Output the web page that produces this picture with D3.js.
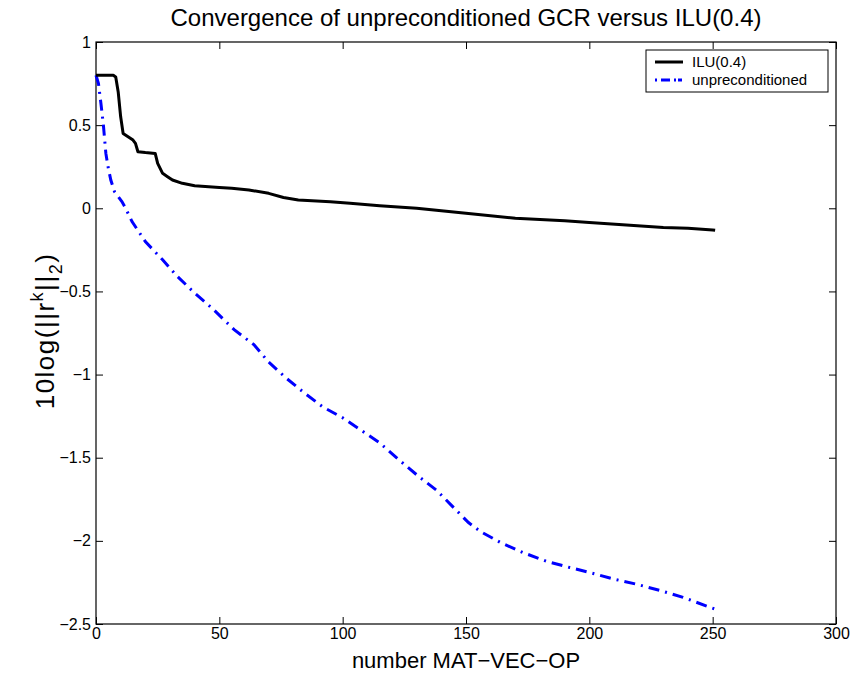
<!DOCTYPE html>
<html>
<head>
<meta charset="utf-8">
<script src="https://cdn.jsdelivr.net/npm/d3@7"></script>
<style>
  body { margin: 0; background: #fff; }
  svg { display: block; font-family: "Liberation Sans", Arial, Helvetica, sans-serif; }
</style>
</head>
<body>
<div id="chart"></div>
<script>
// values
const iluX = [0, 7, 8, 9, 10, 11, 13, 15, 16, 17, 20, 24, 25, 26, 27, 29, 31, 35, 40, 50, 55, 62, 70, 76, 82, 95, 103, 115, 130, 150, 170, 190, 200, 215, 230, 240, 250, 251];
const iluY = [0.80, 0.80, 0.79, 0.70, 0.55, 0.45, 0.43, 0.41, 0.39, 0.34, 0.335, 0.33, 0.27, 0.24, 0.21, 0.19, 0.17, 0.15, 0.135, 0.125, 0.12, 0.11, 0.09, 0.065, 0.05, 0.04, 0.03, 0.015, 0, -0.03, -0.06, -0.075, -0.085, -0.1, -0.115, -0.12, -0.13, -0.132];

const unpX = [0, 1, 2, 3, 4, 5, 6, 7.5, 10.5, 12, 14.6, 20, 27, 33, 40, 47, 56, 64, 70, 77, 84, 92, 100, 107, 115, 123, 131, 138, 144, 151, 156, 164, 173, 183, 192, 200, 210, 219, 229, 238, 249, 251];
const unpY = [0.8, 0.75, 0.63, 0.5, 0.33, 0.24, 0.17, 0.1, 0.04, 0, -0.08, -0.2, -0.31, -0.41, -0.51, -0.6, -0.73, -0.82, -0.925, -1.02, -1.105, -1.195, -1.26, -1.33, -1.41, -1.515, -1.615, -1.695, -1.785, -1.89, -1.945, -2.01, -2.07, -2.125, -2.16, -2.19, -2.23, -2.26, -2.3, -2.34, -2.4, -2.41];

const xTicks = [0, 50, 100, 150, 200, 250, 300];
const yTicks = [1, 0.5, 0, -0.5, -1, -1.5, -2, -2.5];
const seriesNames = ["ILU(0.4)", "unpreconditioned"];

const width = 853;
const height = 675;
const margin = { top: 42, right: 17, bottom: 51, left: 96 };
const chartWidth = width - margin.left - margin.right;
const chartHeight = height - margin.top - margin.bottom;

const svg = d3.select("#chart")
    .append("svg")
    .attr("width", width)
    .attr("height", height);

const chart = svg.append("g")
    .attr("transform", `translate(${margin.left}, ${margin.top})`);

const xScale = d3.scaleLinear().domain([0, 300]).range([0, chartWidth]);
const yScale = d3.scaleLinear().domain([-2.5, 1]).range([chartHeight, 0]);

const fmt = d3.format("");
const tickLen = 7;

// axes: inward ticks on all four sides (matlab box)
chart.append("g")
    .attr("transform", `translate(0, ${chartHeight})`)
    .call(d3.axisBottom(xScale).tickValues(xTicks).tickFormat(fmt).tickSizeInner(-tickLen).tickSizeOuter(0).tickPadding(4))
    .call(g => g.select(".domain").remove());

chart.append("g")
    .call(d3.axisTop(xScale).tickValues(xTicks).tickFormat("").tickSizeInner(-tickLen).tickSizeOuter(0))
    .call(g => g.select(".domain").remove());

chart.append("g")
    .call(d3.axisLeft(yScale).tickValues(yTicks).tickFormat(fmt).tickSizeInner(-tickLen).tickSizeOuter(0).tickPadding(5))
    .call(g => g.select(".domain").remove());

chart.append("g")
    .attr("transform", `translate(${chartWidth}, 0)`)
    .call(d3.axisRight(yScale).tickValues(yTicks).tickFormat("").tickSizeInner(-tickLen).tickSizeOuter(0))
    .call(g => g.select(".domain").remove());

chart.selectAll(".tick text")
    .style("font-size", "16px")
    .style("fill", "#000");
chart.selectAll(".tick line").attr("stroke", "#000");

chart.append("rect")
    .attr("width", chartWidth)
    .attr("height", chartHeight)
    .attr("fill", "none")
    .attr("stroke", "#000")
    .attr("stroke-width", 1.2);

const line = d3.line()
    .x(d => xScale(d[0]))
    .y(d => yScale(d[1]));

const iluData = iluX.map((x, i) => [x, iluY[i]]);
const unpData = unpX.map((x, i) => [x, unpY[i]]);

chart.append("path")
    .datum(unpData)
    .attr("fill", "none")
    .attr("stroke", "#0000ff")
    .attr("stroke-width", 3)
    .attr("stroke-dasharray", "11,6,2,6")
    .attr("d", line);

chart.append("path")
    .datum(iluData)
    .attr("fill", "none")
    .attr("stroke", "#000")
    .attr("stroke-width", 3)
    .attr("stroke-linejoin", "round")
    .attr("d", line);

// title and labels
svg.append("text")
    .attr("x", margin.left + chartWidth / 2)
    .attr("y", 26)
    .attr("text-anchor", "middle")
    .style("font-size", "24px")
    .text("Convergence of unpreconditioned GCR versus ILU(0.4)");

svg.append("text")
    .attr("x", margin.left + chartWidth / 2)
    .attr("y", 668)
    .attr("text-anchor", "middle")
    .style("font-size", "22px")
    .text("number MAT\u2212VEC\u2212OP");

const ylab = svg.append("text")
    .attr("transform", `translate(54, ${margin.top + chartHeight / 2 - 2}) rotate(-90)`)
    .attr("text-anchor", "middle")
    .style("font-size", "26px")
    .style("letter-spacing", "1.5px");
ylab.append("tspan").text("10log(||r");
ylab.append("tspan").attr("dy", -11).style("font-size", "18px").text("k");
ylab.append("tspan").attr("dy", 11).text("||");
ylab.append("tspan").attr("dy", 8).style("font-size", "18px").text("2");
ylab.append("tspan").attr("dy", -8).text(")");

// legend
const legend = svg.append("g").attr("transform", "translate(646, 50)");
legend.append("rect")
    .attr("width", 182)
    .attr("height", 42)
    .attr("fill", "#fff")
    .attr("stroke", "#000")
    .attr("stroke-width", 1);

const legendStyles = [
    { stroke: "#000", dash: null, width: 3 },
    { stroke: "#0000ff", dash: "2,4,9,4,2", width: 3 }
];

seriesNames.forEach((name, i) => {
    const y = 12 + i * 18;
    legend.append("line")
        .attr("x1", 9).attr("x2", 37)
        .attr("y1", y).attr("y2", y)
        .attr("stroke", legendStyles[i].stroke)
        .attr("stroke-width", legendStyles[i].width)
        .attr("stroke-dasharray", legendStyles[i].dash);
    legend.append("text")
        .attr("x", 46)
        .attr("y", y + 5)
        .style("font-size", "15px")
        .text(name);
});
</script>
</body>
</html>
